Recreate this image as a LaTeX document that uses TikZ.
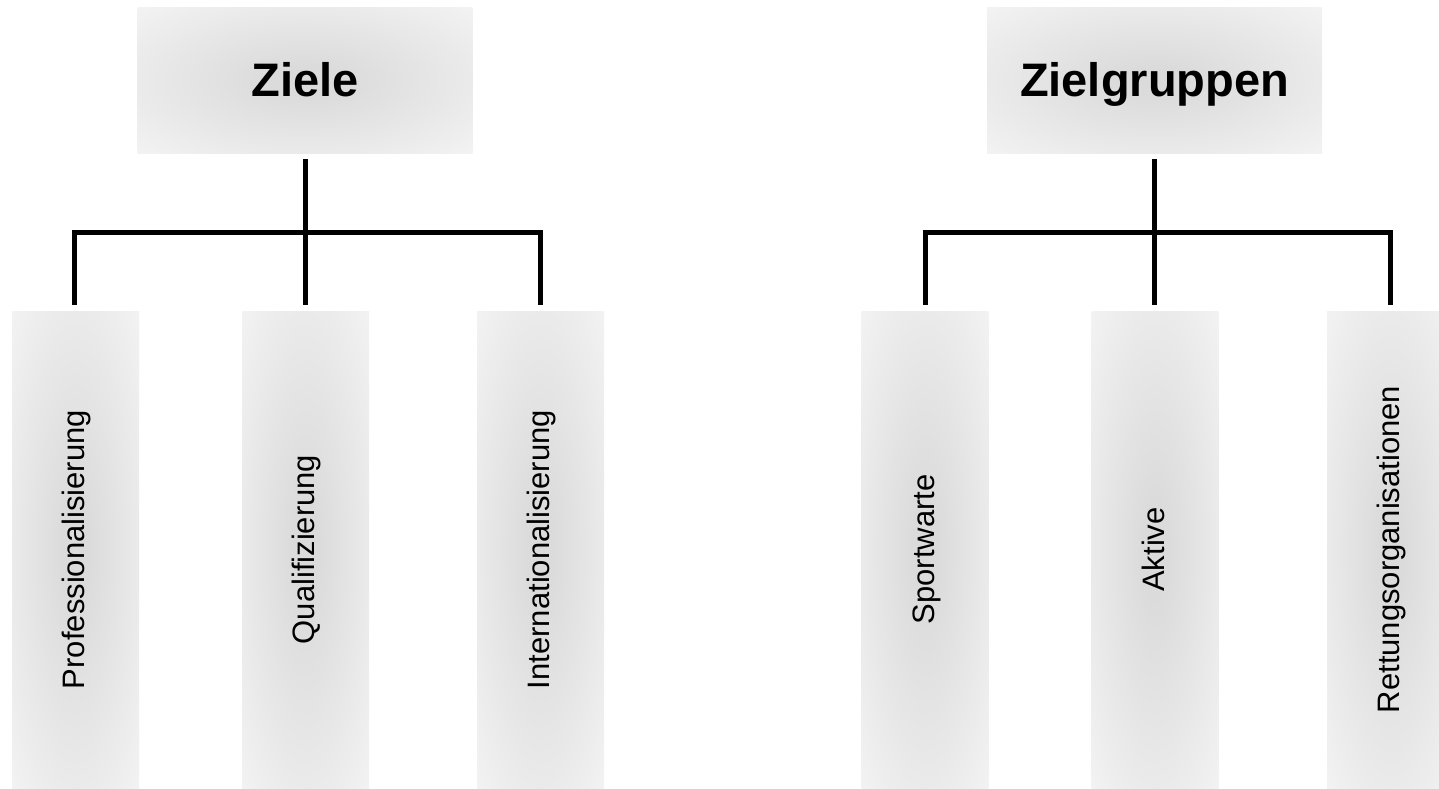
\documentclass[tikz,border=0pt]{standalone}
\usepackage{fontspec}
\setmainfont{Liberation Sans}
\definecolor{boxin}{RGB}{219,219,219}
\definecolor{boxout}{RGB}{243,243,243}
\pgfdeclareradialshading{softbox}{\pgfpoint{0bp}{0bp}}{color(0bp)=(boxin); color(5bp)=(boxin); color(36bp)=(boxout); color(50bp)=(boxout)}
\begin{document}
\begin{tikzpicture}[x=1pt,y=-1pt,
  headbox/.style={rectangle, inner sep=0pt, minimum width=335pt, minimum height=145pt,
    shading=softbox, text height=33pt, text depth=0pt,
    font=\fontsize{47}{52}\selectfont\bfseries},
  itembox/.style={rectangle, inner sep=0pt, minimum width=127pt, minimum height=477pt,
    shading=softbox},
  itemtext/.style={inner sep=0pt, rotate=90, text height=22pt, text depth=4pt,
    font=\fontsize{31}{36}\selectfont},
  conn/.style={line width=5pt, line join=miter, draw=black}]
\useasboundingbox (0,0) rectangle (1439,789);
\clip (0,0) rectangle (1439,789);
% left group
\node[headbox] (z) at (305,80.5) {Ziele};
\node[itembox] (a1) at (75.5,549.5) {};
\node[itembox] (a2) at (305.5,549.5) {};
\node[itembox] (a3) at (540.5,549.5) {};
\node[itemtext] (t1) at (a1.center) {Professionalisierung};
\node[itemtext] (t2) at (a2.center) {Qualifizierung};
\node[itemtext] (t3) at (a3.center) {Internationalisierung};
\coordinate (zbus) at (305,232);
\draw[conn] ([yshift=-6pt]z.south) -- ([yshift=6pt]z.south |- a2.north);
\draw[conn] ([yshift=6pt,xshift=-1pt]a1.north) |- (zbus) -| ([yshift=6pt,xshift=-0.5pt]a3.north);
% right group
\node[headbox] (g) at (1154.5,80.5) {Zielgruppen};
\node[itembox] (b1) at (925,549.5) {};
\node[itembox] (b2) at (1155,549.5) {};
\node[itembox] (b3) at (1390.5,549.5) {};
\node[itemtext] (u1) at (b1.center) {Sportwarte};
\node[itemtext] (u2) at (b2.center) {Aktive};
\node[itemtext] (u3) at (b3.center) {Rettungsorganisationen};
\coordinate (gbus) at (1155,232);
\draw[conn] ([yshift=-6pt]g.south) -- ([yshift=6pt]g.south |- b2.north);
\draw[conn] ([yshift=6pt]b1.north) |- (gbus) -| ([yshift=6pt]b3.north);
\end{tikzpicture}
\end{document}
